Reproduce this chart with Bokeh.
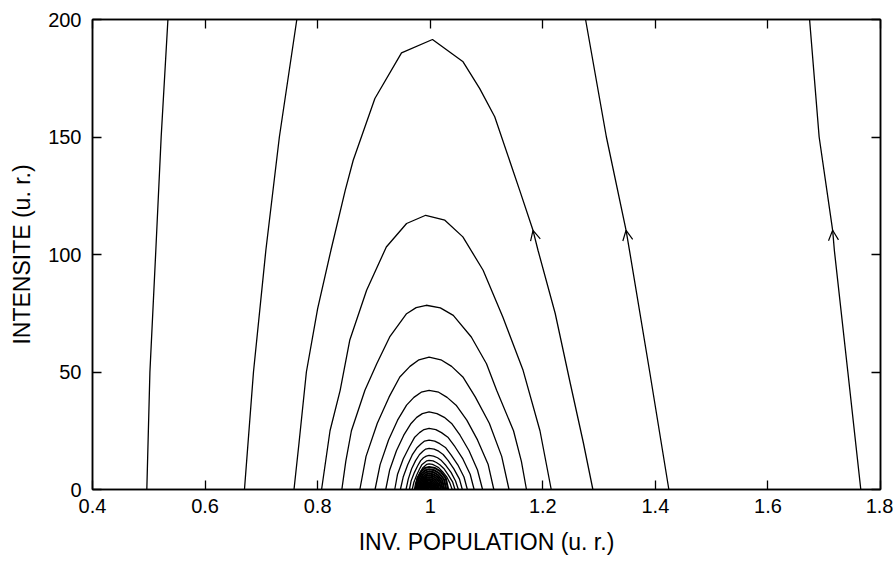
from bokeh.plotting import figure
from bokeh.models import (Range1d, FixedTicker, PrintfTickFormatter, LinearAxis,
                          Arrow, OpenHead, ColumnDataSource, CustomJSTickFormatter)
from bokeh.embed import file_html
from bokeh.resources import INLINE

# ---------------- data ----------------
x_ticks = [0.4, 0.6, 0.8, 1.0, 1.2, 1.4, 1.6, 1.8]
y_ticks = [0, 50, 100, 150, 200]

# open trajectories (left branches)
curve_a_x = [0.4965, 0.502, 0.5125, 0.522, 0.534]
curve_a_y = [0, 50, 101.8, 150, 200]
curve_b_x = [0.670, 0.686, 0.708, 0.732, 0.763]
curve_b_y = [0, 50, 101.8, 150, 200]
# open trajectories (right branches)
curve_d_x = [1.424, 1.390, 1.354, 1.348, 1.313, 1.276]
curve_d_y = [0, 50, 101.8, 110.3, 150, 200]
curve_e_x = [1.765, 1.742, 1.718, 1.715, 1.691, 1.674]
curve_e_y = [0, 50, 101.8, 110.3, 150, 200]

# largest closed orbit (peak ~191)
curve_c_x = [0.758, 0.767, 0.780, 0.800, 0.8236, 0.849, 0.8632, 0.9017, 0.949, 1.004,
             1.0584, 1.088, 1.1146, 1.159, 1.1826, 1.1915, 1.222, 1.249, 1.272, 1.289]
curve_c_y = [0, 20, 50, 77, 101.8, 127.3, 140.1, 166.4, 185.8, 191.5,
             182, 170.6, 158.6, 127.3, 110.3, 101.8, 75, 45, 20, 0]

arc_117_x = [0.807, 0.822, 0.840, 0.857, 0.887, 0.922, 0.958, 0.992, 1.026, 1.058,
             1.094, 1.129, 1.165, 1.195, 1.215]
arc_117_y = [0, 25, 42.2, 63.5, 84.8, 103.2, 113.2, 116.7, 114.6, 107.5,
             93.3, 73.4, 50.7, 25, 0]
arc_78_x = [0.843, 0.850, 0.860, 0.884, 0.905, 0.928, 0.958, 0.975, 0.993, 1.018, 1.041,
            1.073, 1.100, 1.118, 1.148, 1.162, 1.171]
arc_78_y = [0, 12, 25, 42.2, 53.5, 64.9, 74.8, 77.4, 78.4, 77.3, 74.1,
            64.9, 53.5, 42.2, 25, 12, 0]
arc_56_x = [0.875, 0.886, 0.906, 0.927, 0.946, 0.964, 0.980, 0.998,
            1.019, 1.038, 1.058, 1.080, 1.105, 1.127, 1.140]
arc_56_y = [0, 14.1, 28.2, 39.4, 47.9, 52.4, 55.2, 56.3,
            55.2, 52.4, 47.9, 39.4, 28.2, 14.1, 0]
arc_42_x = [0.902, 0.911, 0.926, 0.942, 0.958, 0.971, 0.984, 0.998,
            1.015, 1.030, 1.046, 1.065, 1.084, 1.103, 1.113]
arc_42_y = [0, 10.6, 21.1, 29.5, 35.9, 39.2, 41.4, 42.2,
            41.4, 39.2, 35.9, 29.5, 21.1, 10.6, 0]
arc_33_x = [0.921, 0.928, 0.940, 0.953, 0.966, 0.976, 0.986, 0.998,
            1.012, 1.025, 1.038, 1.053, 1.069, 1.084, 1.093]
arc_33_y = [0, 8.3, 16.5, 23.1, 28.1, 30.7, 32.3, 33.0,
            32.3, 30.7, 28.1, 23.1, 16.5, 8.3, 0]
arc_26_x = [0.937, 0.942, 0.952, 0.963, 0.972, 0.981, 0.989, 0.998,
            1.010, 1.020, 1.032, 1.044, 1.058, 1.071, 1.078]
arc_26_y = [0, 6.5, 13.0, 18.2, 22.1, 24.2, 25.5, 26.0,
            25.5, 24.2, 22.1, 18.2, 13.0, 6.5, 0]
arc_21_x = [0.947, 0.952, 0.960, 0.968, 0.977, 0.984, 0.990, 0.998,
            1.008, 1.017, 1.027, 1.037, 1.049, 1.060, 1.066]
arc_21_y = [0, 5.3, 10.5, 14.7, 17.9, 19.5, 20.6, 21.0,
            20.6, 19.5, 17.9, 14.7, 10.5, 5.3, 0]
arc_17_x = [0.957, 0.961, 0.967, 0.974, 0.981, 0.987, 0.992, 0.998,
            1.007, 1.015, 1.023, 1.032, 1.042, 1.052, 1.057]
arc_17_y = [0, 4.4, 8.8, 12.3, 14.9, 16.3, 17.2, 17.5,
            17.2, 16.3, 14.9, 12.3, 8.8, 4.4, 0]
arc_14_x = [0.963, 0.966, 0.972, 0.978, 0.983, 0.988, 0.993, 0.998,
            1.006, 1.013, 1.020, 1.028, 1.037, 1.045, 1.050]
arc_14_y = [0, 3.6, 7.3, 10.2, 12.3, 13.5, 14.2, 14.5,
            14.2, 13.5, 12.3, 10.2, 7.3, 3.6, 0]
arc_12_x = [0.968, 0.971, 0.976, 0.981, 0.985, 0.990, 0.994, 0.998,
            1.005, 1.011, 1.017, 1.025, 1.032, 1.040, 1.044]
arc_12_y = [0, 3.1, 6.2, 8.7, 10.5, 11.5, 12.2, 12.4,
            12.2, 11.5, 10.5, 8.7, 6.2, 3.1, 0]
arc_11_x = [0.972, 0.974, 0.979, 0.983, 0.987, 0.991, 0.994, 0.998,
            1.004, 1.009, 1.015, 1.022, 1.029, 1.035, 1.039]
arc_11_y = [0, 2.7, 5.5, 7.6, 9.3, 10.1, 10.7, 10.9,
            10.7, 10.1, 9.3, 7.6, 5.5, 2.7, 0]

# dense core of small orbits around (1, 0)
core_01_x = [0.974, 0.9771, 0.9836, 0.9906, 0.998, 1.0085, 1.0184, 1.0276, 1.032]
core_01_y = [0, 4.8, 7.68, 9.12, 9.6, 9.12, 7.68, 4.8, 0]
core_02_x = [0.9765, 0.9793, 0.9851, 0.9913, 0.998, 1.0075, 1.0163, 1.0245, 1.0285]
core_02_y = [0, 4.3, 6.88, 8.17, 8.6, 8.17, 6.88, 4.3, 0]
core_03_x = [0.979, 0.9815, 0.9866, 0.9921, 0.998, 1.0064, 1.0142, 1.0215, 1.025]
core_03_y = [0, 3.85, 6.16, 7.32, 7.7, 7.32, 6.16, 3.85, 0]
core_04_x = [0.981, 0.9832, 0.9878, 0.9927, 0.998, 1.0054, 1.0124, 1.0189, 1.022]
core_04_y = [0, 3.4, 5.44, 6.46, 6.8, 6.46, 5.44, 3.4, 0]
core_05_x = [0.983, 0.9850, 0.9890, 0.9933, 0.998, 1.0045, 1.0106, 1.0163, 1.019]
core_05_y = [0, 3.0, 4.8, 5.7, 6.0, 5.7, 4.8, 3.0, 0]
core_06_x = [0.985, 0.9867, 0.9902, 0.9940, 0.998, 1.0036, 1.0088, 1.0137, 1.016]
core_06_y = [0, 2.6, 4.16, 4.94, 5.2, 4.94, 4.16, 2.6, 0]
core_07_x = [0.9868, 0.9883, 0.9913, 0.9945, 0.998, 1.0028, 1.0073, 1.0115, 1.0135]
core_07_y = [0, 2.25, 3.6, 4.28, 4.5, 4.28, 3.6, 2.25, 0]
core_08_x = [0.9885, 0.9897, 0.9923, 0.9951, 0.998, 1.0020, 1.0058, 1.0093, 1.011]
core_08_y = [0, 1.9, 3.04, 3.61, 3.8, 3.61, 3.04, 1.9, 0]
core_09_x = [0.9902, 0.9912, 0.9933, 0.9956, 0.998, 1.0013, 1.0045, 1.0074, 1.0088]
core_09_y = [0, 1.55, 2.48, 2.95, 3.1, 2.95, 2.48, 1.55, 0]
core_10_x = [0.9918, 0.9926, 0.9943, 0.9961, 0.998, 1.0007, 1.0032, 1.0056, 1.0067]
core_10_y = [0, 1.25, 2.0, 2.38, 2.5, 2.38, 2.0, 1.25, 0]
core_11_x = [0.9933, 0.9939, 0.9952, 0.9965, 0.998, 1.0000, 1.0020, 1.0037, 1.0046]
core_11_y = [0, 0.95, 1.52, 1.8, 1.9, 1.8, 1.52, 0.95, 0]
core_12_x = [0.9948, 0.9952, 0.9961, 0.9970, 0.998, 0.9994, 1.0007, 1.0019, 1.0025]
core_12_y = [0, 0.65, 1.04, 1.24, 1.3, 1.24, 1.04, 0.65, 0]
core_13_x = [0.996, 0.9963, 0.9968, 0.9974, 0.998, 0.9989, 0.9997, 1.0004, 1.0008]
core_13_y = [0, 0.4, 0.64, 0.76, 0.8, 0.76, 0.64, 0.4, 0]

# direction arrows (tail -> tip) on the right-hand branches
arrow_tail_x = [1.1915, 1.354, 1.718]
arrow_tail_y = [101.8, 101.8, 101.8]
arrow_tip_x = [1.1826, 1.348, 1.715]
arrow_tip_y = [110.3, 110.3, 110.3]

x_label = "INV. POPULATION (u. r.)"
y_label = "INTENSITE (u. r.)"

# ---------------- figure ----------------
FONT = "Liberation Sans"
p = figure(width=893, height=573, x_range=Range1d(0.4, 1.8), y_range=Range1d(0, 200),
           output_backend="svg", toolbar_location=None,
           min_border_left=92, min_border_right=13, min_border_top=19, min_border_bottom=84)
p.grid.visible = False
p.outline_line_color = "black"
p.outline_line_width = 1.5
p.background_fill_color = "white"
p.border_fill_color = "white"

orbit_x = [curve_a_x, curve_b_x, curve_c_x, curve_d_x, curve_e_x,
           arc_117_x, arc_78_x, arc_56_x, arc_42_x, arc_33_x, arc_26_x, arc_21_x,
           arc_17_x, arc_14_x, arc_12_x, arc_11_x]
orbit_y = [curve_a_y, curve_b_y, curve_c_y, curve_d_y, curve_e_y,
           arc_117_y, arc_78_y, arc_56_y, arc_42_y, arc_33_y, arc_26_y, arc_21_y,
           arc_17_y, arc_14_y, arc_12_y, arc_11_y]
p.multi_line(xs=orbit_x, ys=orbit_y, line_color="black", line_width=1.3)

core_x = [core_01_x, core_02_x, core_03_x, core_04_x, core_05_x, core_06_x, core_07_x,
          core_08_x, core_09_x, core_10_x, core_11_x, core_12_x, core_13_x]
core_y = [core_01_y, core_02_y, core_03_y, core_04_y, core_05_y, core_06_y, core_07_y,
          core_08_y, core_09_y, core_10_y, core_11_y, core_12_y, core_13_y]
p.multi_line(xs=core_x, ys=core_y, line_color="black", line_width=2.1)

arrow_src = ColumnDataSource(dict(x0=arrow_tail_x, y0=arrow_tail_y, x1=arrow_tip_x, y1=arrow_tip_y))
p.add_layout(Arrow(source=arrow_src, x_start="x0", y_start="y0", x_end="x1", y_end="y1",
                   line_alpha=0,
                   end=OpenHead(size=10, line_width=1.2, line_color="black")))

def style_axis(ax, tick_size="20px", label_size="23px"):
    ax.major_tick_in = 9
    ax.major_tick_out = 0
    ax.minor_tick_in = 0
    ax.minor_tick_out = 0
    ax.axis_line_color = "black"
    ax.axis_line_width = 1.5
    ax.major_tick_line_color = "black"
    ax.major_tick_line_width = 1.3
    ax.major_label_text_font = FONT
    ax.major_label_text_font_size = tick_size
    ax.major_label_text_color = "black"
    ax.axis_label_text_font = FONT
    ax.axis_label_text_font_size = label_size
    ax.axis_label_text_font_style = "normal"
    ax.axis_label_text_color = "black"

xax = p.xaxis[0]
xax.ticker = FixedTicker(ticks=x_ticks)
xax.formatter = PrintfTickFormatter(format="%g")
xax.axis_label = x_label
style_axis(xax)
xax.major_label_standoff = 9
xax.axis_label_standoff = 13

yax = p.yaxis[0]
yax.ticker = FixedTicker(ticks=y_ticks)
yax.axis_label = y_label
style_axis(yax)
yax.major_label_standoff = 11
yax.axis_label_standoff = 10

top = LinearAxis(ticker=FixedTicker(ticks=x_ticks),
                 formatter=CustomJSTickFormatter(code="return ''"))
style_axis(top)
top.major_label_standoff = 0
p.add_layout(top, "above")
right = LinearAxis(ticker=FixedTicker(ticks=y_ticks),
                   formatter=CustomJSTickFormatter(code="return ''"))
style_axis(right)
right.major_label_standoff = 0
p.add_layout(right, "right")

open("out.html", "w").write(file_html(p, INLINE))
